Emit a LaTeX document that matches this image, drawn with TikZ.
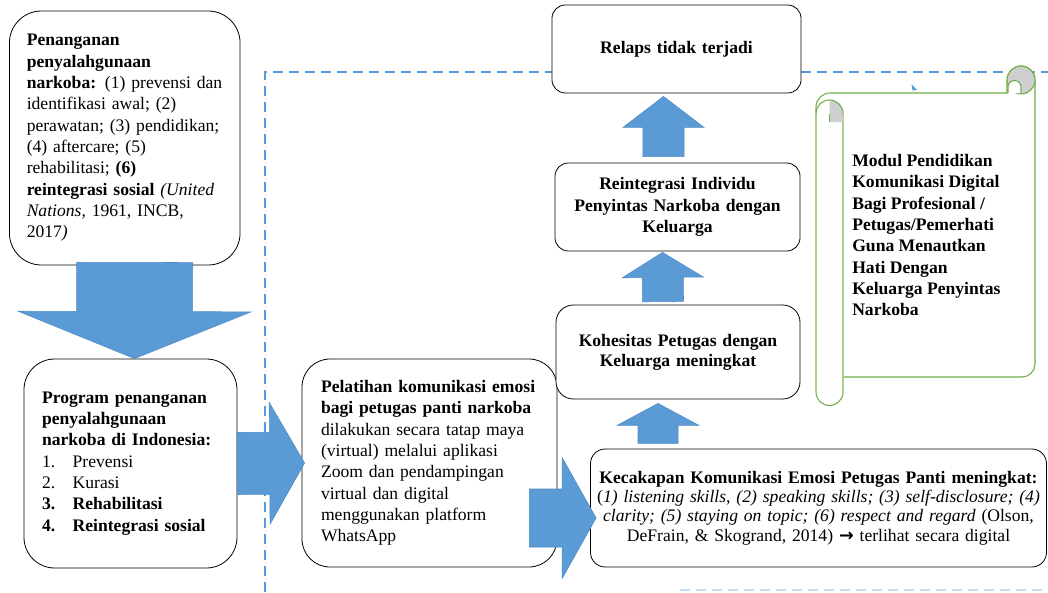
\documentclass[tikz,border=0pt]{standalone}
\usepackage{fontspec}
\setmainfont{Liberation Serif}
\newfontfamily\arrowfont{DejaVu Sans}
\usetikzlibrary{calc}

\definecolor{arrowblue}{HTML}{5B9BD5}
\definecolor{arrowedge}{HTML}{4F8CC4}
\definecolor{scrollgreen}{HTML}{70AD47}
\definecolor{scrolllight}{HTML}{A9D18E}
\definecolor{scrollgray}{HTML}{CFCFCF}

\tikzset{
  roundbox/.style={draw=black, line width=0.6pt, fill=white, rounded corners=#1,
    inner ysep=0pt, font=\fontsize{13.2}{16}\selectfont},
  roundbox/.default=10pt,
  blockarrow/.style={fill=arrowblue, draw=arrowedge, line width=0.4pt},
  dashline/.style={draw=arrowblue, line width=1.1pt, dash pattern=on 7.5pt off 4.5pt},
  scrollline/.style={draw=scrollgreen, line width=0.8pt},
}

% block arrow: start, tip, shaft half width, head half width, head length
\newcommand{\blockarrow}[5]{%
  \path (#1) coordinate (ba-s) (#2) coordinate (ba-e);
  \path ($(ba-e)!#5!(ba-s)$) coordinate (ba-h);
  \filldraw[blockarrow] ($(ba-s)!#3!90:(ba-e)$) -- ($(ba-h)!#3!-90:(ba-s)$)
    -- ($(ba-h)!#4!-90:(ba-s)$) -- (ba-e) -- ($(ba-h)!#4!90:(ba-s)$)
    -- ($(ba-h)!#3!90:(ba-s)$) -- ($(ba-s)!#3!-90:(ba-e)$) -- cycle;
}

\begin{document}
\begin{tikzpicture}[x=0.75pt, y=-0.75pt]
\useasboundingbox (0,0) rectangle (1048,592);

% dashed frame
\draw[dashline] (265,592) -- (265,72) -- (1048,72);
\draw[dashline, opacity=0.35] (680,590) -- (1048,590);

% left column
\node[roundbox=24pt, align=left, text width=147pt, inner xsep=13pt, minimum height=190.5pt]
  (penanganan) at (124.75,138) {\textbf{Penanganan}\\ \textbf{penyalahgunaan}\\
  \textbf{narkoba:} (1) prevensi dan\\ identifikasi awal; (2)\\ perawatan; (3) pendidikan;\\
  (4) aftercare; (5)\\ rehabilitasi; \textbf{(6)}\\ \textbf{reintegrasi sosial} \textit{(United}\\
  \textit{Nations,} 1961, INCB,\\ 2017\textit{)}};

\node[roundbox=23pt, align=left, text width=132.75pt, inner xsep=13.5pt, minimum height=156.75pt]
  (program) at (130.5,463.5) {\textbf{Program penanganan}\\ \textbf{penyalahgunaan}\\
  \textbf{narkoba di Indonesia:}\\ \makebox[23pt][l]{1.}Prevensi\\ \makebox[23pt][l]{2.}Kurasi\\
  \textbf{\makebox[23pt][l]{3.}Rehabilitasi}\\ \textbf{\makebox[23pt][l]{4.}Reintegrasi sosial}};

\node[roundbox=21pt, align=left, text width=162.75pt, inner xsep=14.25pt, minimum height=156pt]
  (pelatihan) at (429.5,463) {\textbf{Pelatihan komunikasi emosi}\\ \textbf{bagi petugas panti narkoba}\\
  dilakukan secara tatap maya\\ (virtual) melalui aplikasi\\ Zoom dan pendampingan\\
  virtual dan digital\\ menggunakan platform\\ WhatsApp};

% right column
\node[roundbox=11pt, align=center, text width=342pt, inner xsep=0pt, minimum height=88.5pt,
  font=\fontsize{13.2}{14.6}\selectfont]
  (kecakapan) at (818.5,508) {\textbf{Kecakapan Komunikasi Emosi Petugas Panti meningkat:}\\
  (\textit{1) listening skills, (2) speaking skills; (3) self-disclosure; (4)}\\
  \textit{clarity; (5) staying on topic; (6) respect and regard} (Olson,\\
  DeFrain, \& Skogrand, 2014) {\arrowfont\bfseries →} terlihat secara digital};

\node[roundbox=13pt, align=center, text width=175pt, inner xsep=4pt, minimum height=70.5pt,
  font=\fontsize{13.2}{15}\selectfont\bfseries]
  (kohesitas) at (678,352) {Kohesitas Petugas dengan\\ Keluarga meningkat};

\node[roundbox=10pt, align=center, text width=175pt, inner xsep=4.4pt, minimum height=66pt,
  font=\fontsize{13.2}{16}\selectfont\bfseries]
  (reintegrasi) at (677.5,207) {Reintegrasi Individu\\ Penyintas Narkoba dengan\\ Keluarga};

\node[roundbox=10pt, align=center, text width=178pt, inner xsep=4.4pt, minimum height=66pt,
  font=\fontsize{13.2}{16}\selectfont\bfseries]
  (relaps) at (676.5,49) {Relaps tidak terjadi};

% scroll
\draw[scrollline, fill=white] (843,377) -- (1022,377) arc[start angle=-90, end angle=0, radius=9.75pt]
  -- (1035,80) arc[start angle=0, end angle=180, radius=10.5pt] -- (1007,93) -- (830,93)
  arc[start angle=90, end angle=180, radius=10.5pt] -- (816,392)
  arc[start angle=180, end angle=360, radius=10.125pt] -- (843,113);
\draw[draw=scrolllight, line width=0.8pt] (816,113) -- (816,392) (843,113) -- (843,392);
\filldraw[scrollline, fill=scrollgray] (1021,80) circle[radius=10.5pt];
\filldraw[scrollline, fill=white] (1008,93) -- (1008,87) arc[start angle=180, end angle=0, radius=4.875pt]
  -- (1021,93);
\fill[scrollgray] (829.5,122) -- (829.5,100) arc[start angle=90, end angle=0, radius=10.125pt]
  -- (843,122) -- cycle;
\draw[scrollline] (816,113.5) arc[start angle=180, end angle=0, radius=10.125pt];
\draw[scrollline] (829.5,113.5) -- (829.5,122);

\node[anchor=north west, align=left, inner sep=0pt, font=\fontsize{13.2}{16}\selectfont\bfseries]
  (modul) at (852,154) {Modul Pendidikan\\ Komunikasi Digital\\ Bagi Profesional /\\
  Petugas/Pemerhati\\ Guna Menautkan\\ Hati Dengan\\ Keluarga Penyintas\\ Narkoba};

% block arrows
\blockarrow{$(penanganan.south)+(10,-3)$}{$(program.north)+(4,0)$}{43.5pt}{87.4pt}{35.3pt}
\blockarrow{program.east}{$(pelatihan.west)+(3,0)$}{23.25pt}{45.75pt}{26.25pt}
\blockarrow{$(pelatihan.east)+(-28,55)$}{$(kecakapan.west)+(6,10)$}{21.75pt}{45.4pt}{25.5pt}
\blockarrow{$(kohesitas.south)+(-20,44)$}{$(kohesitas.south)+(-20,4)$}{15pt}{30.75pt}{16.5pt}
\blockarrow{$(kohesitas.north)+(-15,-3)$}{$(reintegrasi.south)+(-15,1)$}{15.4pt}{30.4pt}{18.75pt}
\blockarrow{$(reintegrasi.north)+(-14,-6)$}{$(relaps.south)+(-13,3)$}{15.4pt}{30.4pt}{23.25pt}

\fill[arrowblue] (911.5,84) -- (917,90) -- (912.5,90.5) -- cycle;
\end{tikzpicture}
\end{document}
